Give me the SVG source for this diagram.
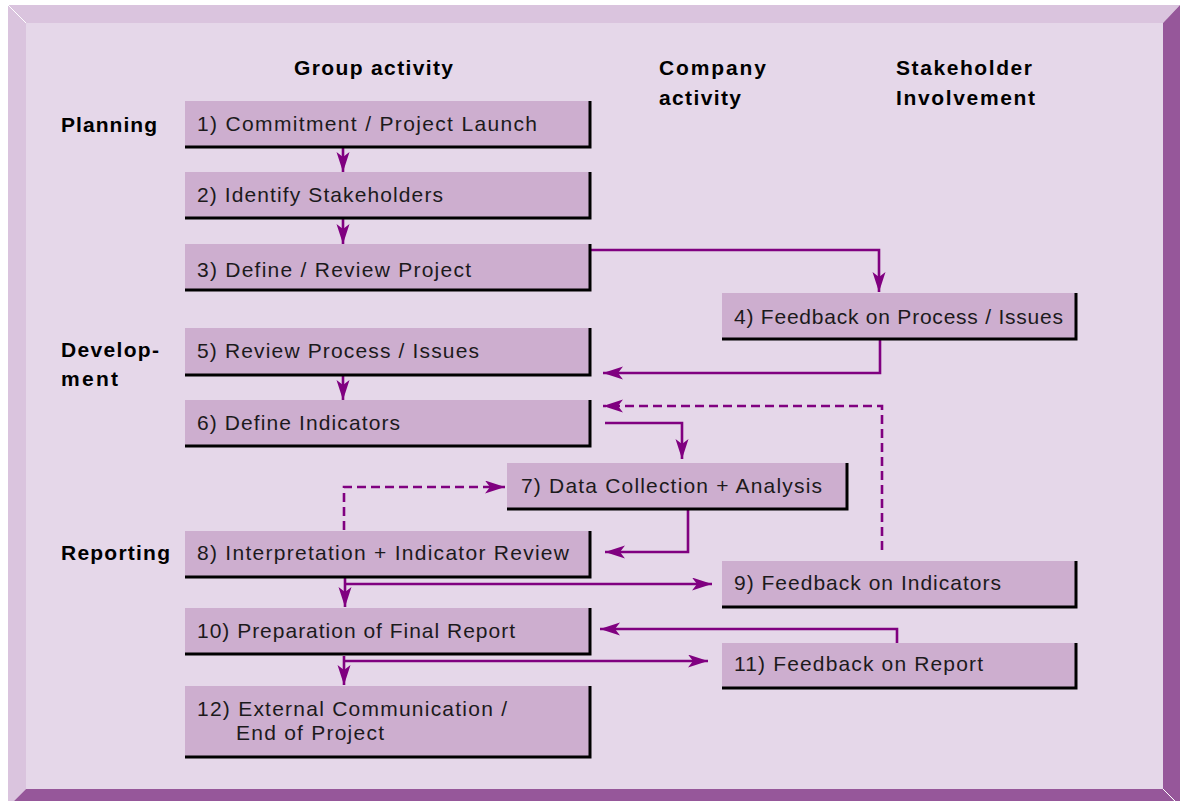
<svg xmlns="http://www.w3.org/2000/svg" width="1184" height="801" viewBox="0 0 1184 801">
<style>
.bx{fill:#cdaecf}
.sh{fill:none;stroke:#000;stroke-width:3}
.t{font-family:"Liberation Sans",Arial,sans-serif;font-size:21px;fill:#1c1a1c}
.h{font-family:"Liberation Sans",Arial,sans-serif;font-size:21px;font-weight:bold;fill:#000}
.c{fill:none;stroke:#800080;stroke-width:2.6}
.d{stroke-dasharray:9 5}
</style>
<defs>
<marker id="ah" markerUnits="userSpaceOnUse" markerWidth="22" markerHeight="14" refX="20" refY="6.5" orient="auto">
<path d="M0,0 L20,6.5 L0,13 L5,6.5 z" fill="#800080"/>
</marker>
</defs>
<rect x="0" y="0" width="1184" height="801" fill="#ffffff"/>
<g id="frame">
<rect x="26" y="23" width="1137" height="766" fill="#e5d7e9"/>
<polygon points="8,5 1180,5 1163,23 26,23" fill="#dac4de"/>
<polygon points="8,5 26,23 26,789 8,807" fill="#dac4de"/>
<polygon points="8,807 26,789 1163,789 1180,807" fill="#96579a"/>
<polygon points="1180,5 1180,807 1163,789 1163,23" fill="#96579a"/>
<line x1="8" y1="5" x2="26" y2="23" stroke="#fff" stroke-width="1"/>
<line x1="1163" y1="789" x2="1175" y2="801" stroke="#fff" stroke-width="1"/>
</g>
<g id="headers">
<text class="h" x="294" y="75" textLength="159">Group activity</text>
<text class="h" x="659" y="75" textLength="107">Company</text>
<text class="h" x="659" y="105" textLength="82">activity</text>
<text class="h" x="896" y="75" textLength="136">Stakeholder</text>
<text class="h" x="896" y="105" textLength="139">Involvement</text>
<text class="h" x="61" y="132" textLength="96">Planning</text>
<text class="h" x="61" y="357" textLength="98">Develop-</text>
<text class="h" x="61" y="386" textLength="57">ment</text>
<text class="h" x="61" y="560" textLength="109">Reporting</text>
</g>
<g id="connectors">
<path class="c" d="M343,148 V172" marker-end="url(#ah)"/>
<path class="c" d="M343,219 V244" marker-end="url(#ah)"/>
<path class="c" d="M591,250 H879 V292" marker-end="url(#ah)"/>
<path class="c" d="M880,340 V373 H603" marker-end="url(#ah)"/>
<path class="c" d="M343,376 V400" marker-end="url(#ah)"/>
<path class="c d" d="M882,550 V406 H603" marker-end="url(#ah)"/>
<path class="c" d="M605,423 H682 V459" marker-end="url(#ah)"/>
<path class="c d" d="M344,530 V487 H505" marker-end="url(#ah)"/>
<path class="c" d="M688,510 V552 H605" marker-end="url(#ah)"/>
<path class="c" d="M345,578 V607" marker-end="url(#ah)"/>
<path class="c" d="M345,584 H712" marker-end="url(#ah)"/>
<path class="c" d="M897,643 V629 H600" marker-end="url(#ah)"/>
<path class="c" d="M344,656 V685" marker-end="url(#ah)"/>
<path class="c" d="M344,661 H708" marker-end="url(#ah)"/>
</g>
<g id="n1"><rect class="bx" x="185" y="101" width="405" height="46"/><polyline class="sh" points="590,101 590,147 185,147"/><text class="t" x="197" y="131" textLength="340">1) Commitment / Project Launch</text></g>
<g id="n2"><rect class="bx" x="185" y="172" width="405" height="46"/><polyline class="sh" points="590,172 590,218 185,218"/><text class="t" x="197" y="202" textLength="246">2) Identify Stakeholders</text></g>
<g id="n3"><rect class="bx" x="185" y="244" width="405" height="46"/><polyline class="sh" points="590,244 590,290 185,290"/><text class="t" x="197" y="277" textLength="274">3) Define / Review Project</text></g>
<g id="n4"><rect class="bx" x="722" y="293" width="354" height="46"/><polyline class="sh" points="1076,293 1076,339 722,339"/><text class="t" x="734" y="324" textLength="329">4) Feedback on Process / Issues</text></g>
<g id="n5"><rect class="bx" x="185" y="328" width="405" height="47"/><polyline class="sh" points="590,328 590,375 185,375"/><text class="t" x="197" y="358" textLength="282">5) Review Process / Issues</text></g>
<g id="n6"><rect class="bx" x="185" y="400" width="405" height="46"/><polyline class="sh" points="590,400 590,446 185,446"/><text class="t" x="197" y="430" textLength="203">6) Define Indicators</text></g>
<g id="n7"><rect class="bx" x="507" y="463" width="340" height="46"/><polyline class="sh" points="847,463 847,509 507,509"/><text class="t" x="521" y="493" textLength="301">7) Data Collection + Analysis</text></g>
<g id="n8"><rect class="bx" x="185" y="531" width="405" height="46"/><polyline class="sh" points="590,531 590,577 185,577"/><text class="t" x="197" y="560" textLength="372">8) Interpretation + Indicator Review</text></g>
<g id="n9"><rect class="bx" x="722" y="561" width="354" height="46"/><polyline class="sh" points="1076,561 1076,607 722,607"/><text class="t" x="734" y="590" textLength="267">9) Feedback on Indicators</text></g>
<g id="n10"><rect class="bx" x="185" y="608" width="405" height="46"/><polyline class="sh" points="590,608 590,654 185,654"/><text class="t" x="197" y="638" textLength="318">10) Preparation of Final Report</text></g>
<g id="n11"><rect class="bx" x="722" y="643" width="354" height="45"/><polyline class="sh" points="1076,643 1076,688 722,688"/><text class="t" x="734" y="671" textLength="249">11) Feedback on Report</text></g>
<g id="n12"><rect class="bx" x="185" y="686" width="405" height="71"/><polyline class="sh" points="590,686 590,757 185,757"/><text class="t" x="197" y="716" textLength="310">12) External Communication /</text><text class="t" x="236" y="740" textLength="148">End of Project</text></g>
</svg>
